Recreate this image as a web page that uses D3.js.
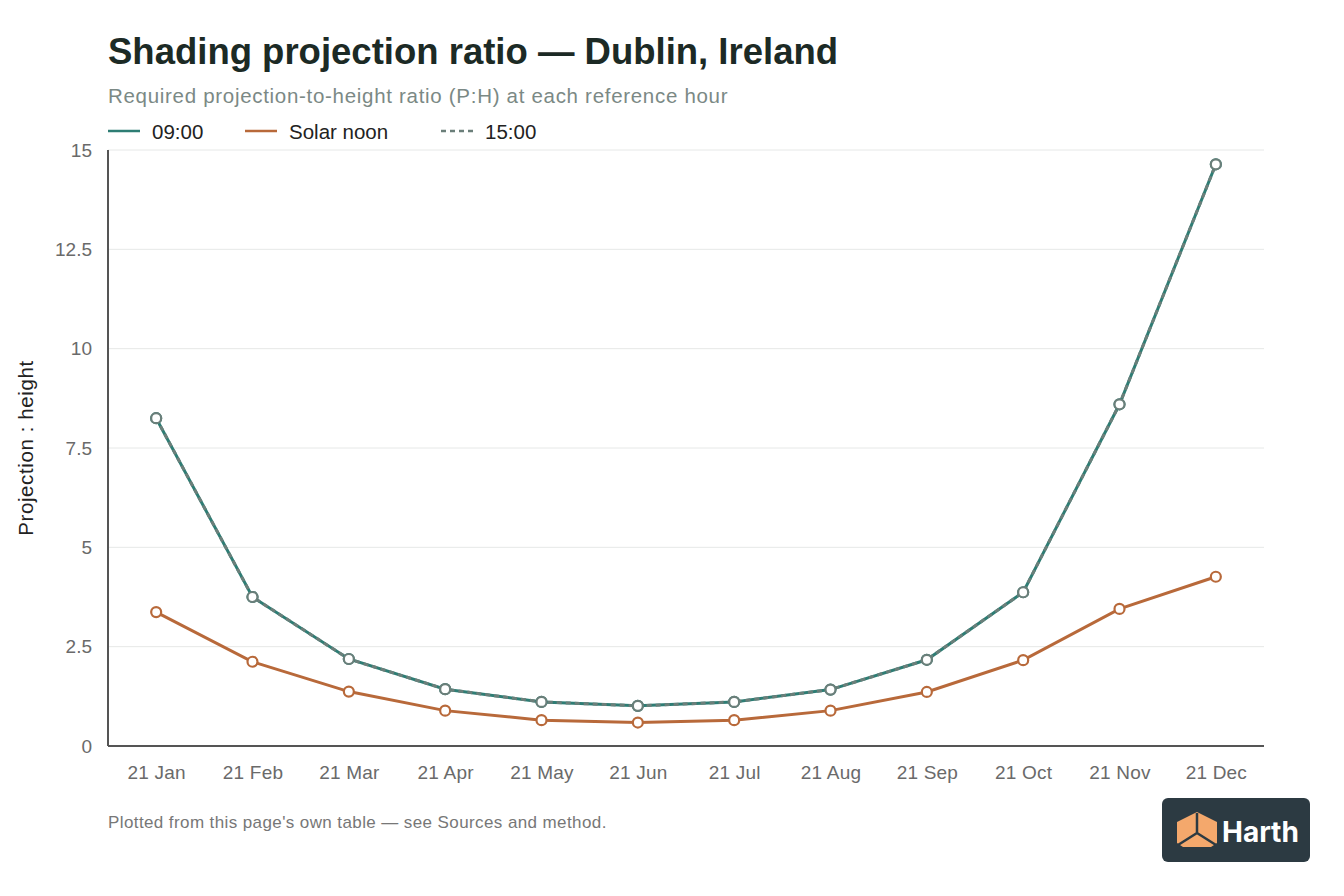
<!DOCTYPE html>
<html>
<head>
<meta charset="utf-8">
<script src="https://cdn.jsdelivr.net/npm/d3@7"></script>
<style>
  body { margin: 0; background: #fff; }
  svg { font-family: "Liberation Sans", Arial, sans-serif; }
</style>
</head>
<body>
<svg width="1344" height="896"></svg>
<script>
var months = ["21 Jan", "21 Feb", "21 Mar", "21 Apr", "21 May", "21 Jun", "21 Jul", "21 Aug", "21 Sep", "21 Oct", "21 Nov", "21 Dec"]
var morning = [8.25, 3.75, 2.19, 1.43, 1.11, 1.01, 1.11, 1.42, 2.17, 3.87, 8.6, 14.64]
var noon = [3.37, 2.12, 1.37, 0.89, 0.65, 0.59, 0.65, 0.89, 1.36, 2.16, 3.45, 4.26]
var afternoon = [8.25, 3.75, 2.19, 1.43, 1.11, 1.01, 1.11, 1.42, 2.17, 3.87, 8.6, 14.64]
var yTicks = [0, 2.5, 5, 7.5, 10, 12.5, 15]

var svg = d3.select("svg")
var plotLeft = 108, plotRight = 1264, plotTop = 150, plotBottom = 746

var xScale = d3.scalePoint().domain(months).range([plotLeft, plotRight]).padding(0.5)
var yScale = d3.scaleLinear().domain([0, 15]).range([plotBottom, plotTop])

// title block
svg.append("text").attr("x", 108).attr("y", 64)
  .attr("font-size", 36.5).attr("font-weight", "bold").attr("fill", "#1c2a25")
  .text("Shading projection ratio — Dublin, Ireland")
svg.append("text").attr("x", 108).attr("y", 103)
  .attr("font-size", 20.5).attr("letter-spacing", 0.7).attr("fill", "#7b8985")
  .text("Required projection-to-height ratio (P:H) at each reference hour")

// legend
var legend = [
  { name: "09:00", color: "#2e7d74", dash: null, x: 108 },
  { name: "Solar noon", color: "#b8693a", dash: null, x: 245 },
  { name: "15:00", color: "#6b7f7a", dash: "5,4", x: 441 }
]
var lg = svg.selectAll("g.legend").data(legend).enter().append("g").attr("class", "legend")
lg.append("line")
  .attr("x1", function (d) { return d.x }).attr("x2", function (d) { return d.x + 32 })
  .attr("y1", 131).attr("y2", 131)
  .attr("stroke", function (d) { return d.color }).attr("stroke-width", 2.5)
  .attr("stroke-dasharray", function (d) { return d.dash })
lg.append("text")
  .attr("x", function (d) { return d.x + 44 }).attr("y", 139)
  .attr("font-size", 20.5).attr("fill", "#222")
  .text(function (d) { return d.name })

// grid + y axis
var yAxis = d3.axisLeft(yScale).tickValues(yTicks).tickSize(0).tickPadding(16)
  .tickFormat(function (d) { return d })
var yG = svg.append("g").attr("transform", "translate(" + plotLeft + ",0)").call(yAxis)
yG.select(".domain").remove()
yG.selectAll("text").attr("font-size", 19).attr("fill", "#6a6a6a").attr("font-family", null)

svg.append("g").selectAll("line").data(yTicks.filter(function (d) { return d > 0 })).enter()
  .append("line")
  .attr("x1", plotLeft).attr("x2", plotRight)
  .attr("y1", function (d) { return yScale(d) }).attr("y2", function (d) { return yScale(d) })
  .attr("stroke", "#e6e8e7").attr("stroke-width", 1)

var xAxis = d3.axisBottom(xScale).tickSize(0).tickPadding(20)
var xG = svg.append("g").attr("transform", "translate(0," + plotBottom + ")").call(xAxis)
xG.select(".domain").remove()
xG.selectAll("text").attr("font-size", 19).attr("letter-spacing", 0.2).attr("fill", "#6a6a6a").attr("font-family", null)

svg.append("line").attr("x1", plotLeft).attr("x2", plotLeft).attr("y1", plotTop).attr("y2", plotBottom)
  .attr("stroke", "#555").attr("stroke-width", 2)
svg.append("line").attr("x1", plotLeft).attr("x2", plotRight).attr("y1", plotBottom).attr("y2", plotBottom)
  .attr("stroke", "#555").attr("stroke-width", 2)

svg.append("text")
  .attr("transform", "translate(33,448) rotate(-90)")
  .attr("text-anchor", "middle").attr("font-size", 20.5).attr("letter-spacing", 0.6).attr("fill", "#222")
  .text("Projection : height")

// series
var series = [
  { values: morning, color: "#2e7d74", dash: null },
  { values: noon, color: "#b8693a", dash: null },
  { values: afternoon, color: "#6b7f7a", dash: "5,4" }
]
var line = d3.line()
  .x(function (d, i) { return xScale(months[i]) })
  .y(function (d) { return yScale(d) })

series.forEach(function (s) {
  svg.append("path").datum(s.values)
    .attr("d", line).attr("fill", "none")
    .attr("stroke", s.color).attr("stroke-width", 3)
    .attr("stroke-dasharray", s.dash)
})
series.forEach(function (s) {
  svg.append("g").selectAll("circle").data(s.values).enter().append("circle")
    .attr("cx", function (d, i) { return xScale(months[i]) })
    .attr("cy", function (d) { return yScale(d) })
    .attr("r", 5).attr("fill", "#fff")
    .attr("stroke", s.color).attr("stroke-width", 2.2)
})

svg.append("text").attr("x", 108).attr("y", 828)
  .attr("font-size", 17).attr("letter-spacing", 0.4).attr("fill", "#777")
  .text("Plotted from this page's own table — see Sources and method.")

// logo
var logo = svg.append("g")
logo.append("rect").attr("x", 1162).attr("y", 798).attr("width", 148).attr("height", 64)
  .attr("rx", 6).attr("fill", "#2c3a42")
logo.append("path")
  .attr("d", "M1177,822 L1197,812 L1217,822 L1217,843 L1211,847 L1183,847 L1177,843 Z")
  .attr("fill", "#f4a86c")
logo.append("path")
  .attr("d", "M1197,813 L1197,833 M1197,833 L1178,845 M1197,833 L1216,845")
  .attr("stroke", "#2c3a42").attr("stroke-width", 2.5).attr("fill", "none")
logo.append("text").attr("x", 1222).attr("y", 842)
  .attr("font-size", 28).attr("font-weight", "bold").attr("fill", "#fff")
  .attr("font-family", "Inter, 'Liberation Sans', sans-serif")
  .text("Harth")
</script>
</body>
</html>
